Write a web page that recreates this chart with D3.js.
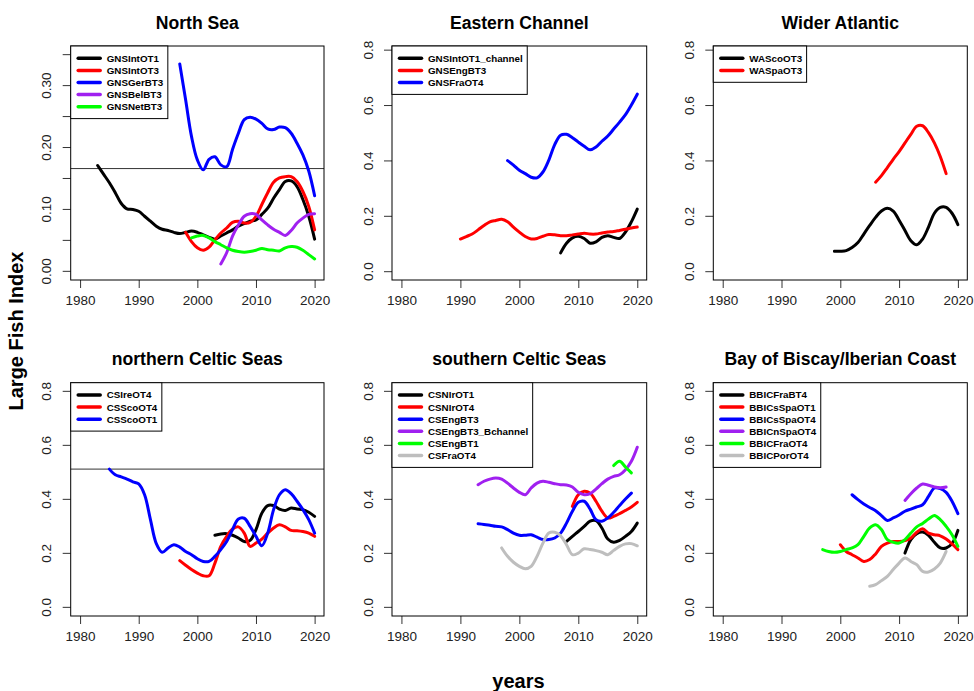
<!DOCTYPE html>
<html>
<head>
<meta charset="utf-8">
<script src="https://cdn.jsdelivr.net/npm/d3@7"></script>
<style>
  body { margin: 0; background: #fff; }
  svg { display: block; font-family: "Liberation Sans", Arial, sans-serif; }
</style>
</head>
<body>
<div id="chart"></div>
<script>
// tick labels
const xTicks = [1980, 1990, 2000, 2010, 2020];
const ticksNorthSea = [0, 0.05, 0.10, 0.15, 0.20, 0.25, 0.30, 0.35];
const labelsNorthSea = [0, 0.10, 0.20, 0.30];
const ticksOther = [0, 0.2, 0.4, 0.6, 0.8];

// North Sea
const gnsIntOT1 = [0.171, 0.157, 0.143, 0.127, 0.110, 0.101, 0.100, 0.097, 0.089, 0.081, 0.073, 0.068, 0.066, 0.063, 0.061, 0.063, 0.065, 0.063, 0.059, 0.055, 0.052, 0.057, 0.062, 0.067, 0.073, 0.077, 0.081, 0.083, 0.092, 0.102, 0.118, 0.132, 0.145, 0.146, 0.137, 0.116, 0.089, 0.052]; // from 1983
const gnsIntOT3 = [0.063, 0.048, 0.038, 0.034, 0.039, 0.051, 0.062, 0.070, 0.079, 0.081, 0.078, 0.079, 0.089, 0.108, 0.127, 0.144, 0.151, 0.153, 0.153, 0.145, 0.129, 0.105, 0.067]; // from 1998
const gnsGerBT3 = [0.335, 0.277, 0.218, 0.180, 0.164, 0.181, 0.185, 0.172, 0.169, 0.197, 0.223, 0.245, 0.249, 0.246, 0.239, 0.230, 0.229, 0.233, 0.232, 0.223, 0.207, 0.188, 0.162, 0.122]; // from 1997
const gnsBelBT3 = [0.012, 0.030, 0.057, 0.075, 0.089, 0.093, 0.092, 0.083, 0.075, 0.068, 0.063, 0.058, 0.066, 0.078, 0.086, 0.092, 0.093]; // from 2004
const gnsNetBT3 = [0.054, 0.057, 0.058, 0.054, 0.048, 0.043, 0.038, 0.034, 0.032, 0.031, 0.032, 0.034, 0.037, 0.035, 0.034, 0.033, 0.038, 0.040, 0.039, 0.034, 0.027, 0.020]; // from 1999

// Eastern Channel
const gnsIntOT1Channel = [0.068, 0.103, 0.122, 0.128, 0.120, 0.103, 0.108, 0.124, 0.130, 0.124, 0.120, 0.143, 0.180, 0.226]; // from 2007
const gnsEngBT3 = [0.118, 0.127, 0.136, 0.151, 0.167, 0.180, 0.185, 0.189, 0.180, 0.161, 0.143, 0.127, 0.118, 0.120, 0.128, 0.134, 0.133, 0.130, 0.130, 0.133, 0.136, 0.139, 0.136, 0.136, 0.140, 0.143, 0.145, 0.149, 0.153, 0.158, 0.161]; // from 1990
const gnsFraOT4 = [0.401, 0.385, 0.366, 0.354, 0.341, 0.339, 0.360, 0.403, 0.459, 0.493, 0.496, 0.484, 0.468, 0.453, 0.440, 0.450, 0.471, 0.490, 0.515, 0.540, 0.567, 0.602, 0.641]; // from 1998

// Wider Atlantic
const waScoOT3 = [0.074, 0.074, 0.076, 0.087, 0.105, 0.136, 0.167, 0.196, 0.219, 0.229, 0.219, 0.186, 0.149, 0.112, 0.097, 0.118, 0.161, 0.211, 0.232, 0.232, 0.211, 0.170]; // from 1999
const waSpaOT3 = [0.323, 0.347, 0.376, 0.406, 0.434, 0.465, 0.496, 0.525, 0.527, 0.502, 0.465, 0.416, 0.354]; // from 2006

// northern Celtic Seas
const csIreOT4 = [0.267, 0.272, 0.273, 0.267, 0.257, 0.244, 0.248, 0.288, 0.349, 0.377, 0.377, 0.364, 0.359, 0.368, 0.364, 0.362, 0.352, 0.337]; // from 2003
const csScoOT4 = [0.173, 0.156, 0.140, 0.127, 0.117, 0.117, 0.164, 0.226, 0.263, 0.290, 0.298, 0.275, 0.226, 0.238, 0.253, 0.275, 0.294, 0.306, 0.298, 0.285, 0.284, 0.281, 0.275, 0.263]; // from 1997
const csScoOT1 = [0.512, 0.491, 0.483, 0.475, 0.465, 0.457, 0.417, 0.325, 0.236, 0.204, 0.220, 0.232, 0.223, 0.207, 0.195, 0.180, 0.170, 0.170, 0.189, 0.214, 0.244, 0.288, 0.327, 0.330, 0.300, 0.263, 0.228, 0.275, 0.362, 0.417, 0.436, 0.421, 0.393, 0.362, 0.325, 0.275]; // from 1985

// southern Celtic Seas
const csNIrOT1 = [0.244, 0.263, 0.281, 0.300, 0.319, 0.321, 0.294, 0.253, 0.241, 0.248, 0.263, 0.281, 0.312]; // from 2008
const csNIrOT4 = [0.374, 0.417, 0.430, 0.423, 0.393, 0.356, 0.331, 0.337, 0.347, 0.359, 0.372, 0.389]; // from 2009
const csEngBT3 = [0.310, 0.307, 0.304, 0.300, 0.298, 0.288, 0.275, 0.267, 0.267, 0.269, 0.260, 0.251, 0.251, 0.257, 0.275, 0.312, 0.356, 0.389, 0.393, 0.364, 0.325, 0.319, 0.331, 0.352, 0.377, 0.401, 0.423]; // from 1993
const csEngBT3Bchannel = [0.454, 0.467, 0.475, 0.479, 0.475, 0.460, 0.442, 0.426, 0.417, 0.442, 0.460, 0.467, 0.463, 0.458, 0.454, 0.453, 0.446, 0.426, 0.417, 0.421, 0.438, 0.458, 0.475, 0.485, 0.491, 0.510, 0.541, 0.593]; // from 1993
const csEngBT1 = [0.525, 0.541, 0.520, 0.498]; // from 2016
const csFraOT4 = [0.220, 0.189, 0.167, 0.152, 0.143, 0.152, 0.189, 0.238, 0.275, 0.278, 0.265, 0.232, 0.195, 0.201, 0.217, 0.214, 0.210, 0.204, 0.195, 0.211, 0.226, 0.235, 0.236, 0.228]; // from 1997

// Bay of Biscay / Iberian Coast
const bbicFraBT4 = [0.201, 0.251, 0.273, 0.279, 0.267, 0.241, 0.220, 0.220, 0.236, 0.285]; // from 2011
const bbicsSpaOT1 = [0.232, 0.207, 0.195, 0.183, 0.170, 0.177, 0.198, 0.226, 0.238, 0.244, 0.244, 0.247, 0.257, 0.278, 0.291, 0.275, 0.269, 0.265, 0.253, 0.235, 0.214]; // from 2000
const bbicsSpaOT4 = [0.417, 0.399, 0.383, 0.370, 0.358, 0.340, 0.322, 0.331, 0.342, 0.356, 0.364, 0.372, 0.380, 0.411, 0.442, 0.440, 0.426, 0.393, 0.347]; // from 2002
const bbicnSpaOT4 = [0.396, 0.421, 0.442, 0.457, 0.452, 0.446, 0.443, 0.446]; // from 2011
const bbicFraOT4 = [0.214, 0.207, 0.204, 0.207, 0.214, 0.220, 0.232, 0.263, 0.294, 0.306, 0.288, 0.251, 0.241, 0.238, 0.251, 0.275, 0.298, 0.311, 0.327, 0.340, 0.325, 0.300, 0.269, 0.226]; // from 1997
const bbicPorOT4 = [0.078, 0.084, 0.099, 0.115, 0.140, 0.164, 0.183, 0.170, 0.158, 0.133, 0.131, 0.142, 0.164, 0.207]; // from 2005

const panels = [
  { title: 'North Sea', col: 0, row: 0, ydom: [-0.014, 0.364], ticks: ticksNorthSea, labels: labelsNorthSea, fmt: '.2f', ref: 0.166,
    series: [
      { name: 'GNSIntOT1', color: 'black', start: 1983, values: gnsIntOT1 },
      { name: 'GNSIntOT3', color: '#ff0000', start: 1998, values: gnsIntOT3 },
      { name: 'GNSGerBT3', color: '#0000ff', start: 1997, values: gnsGerBT3 },
      { name: 'GNSBelBT3', color: '#a020f0', start: 2004, values: gnsBelBT3 },
      { name: 'GNSNetBT3', color: '#00ff00', start: 1999, values: gnsNetBT3 }
    ] },
  { title: 'Eastern Channel', col: 1, row: 0, ydom: [-0.030, 0.815], ticks: ticksOther, labels: ticksOther, fmt: '.1f',
    series: [
      { name: 'GNSIntOT1_channel', color: 'black', start: 2007, values: gnsIntOT1Channel },
      { name: 'GNSEngBT3', color: '#ff0000', start: 1990, values: gnsEngBT3 },
      { name: 'GNSFraOT4', color: '#0000ff', start: 1998, values: gnsFraOT4 }
    ] },
  { title: 'Wider Atlantic', col: 2, row: 0, ydom: [-0.030, 0.815], ticks: ticksOther, labels: ticksOther, fmt: '.1f',
    series: [
      { name: 'WAScoOT3', color: 'black', start: 1999, values: waScoOT3 },
      { name: 'WASpaOT3', color: '#ff0000', start: 2006, values: waSpaOT3 }
    ] },
  { title: 'northern Celtic Seas', col: 0, row: 1, ydom: [-0.032, 0.832], ticks: ticksOther, labels: ticksOther, fmt: '.1f', ref: 0.512,
    series: [
      { name: 'CSIreOT4', color: 'black', start: 2003, values: csIreOT4 },
      { name: 'CSScoOT4', color: '#ff0000', start: 1997, values: csScoOT4 },
      { name: 'CSScoOT1', color: '#0000ff', start: 1985, values: csScoOT1 }
    ] },
  { title: 'southern Celtic Seas', col: 1, row: 1, ydom: [-0.032, 0.832], ticks: ticksOther, labels: ticksOther, fmt: '.1f',
    series: [
      { name: 'CSNIrOT1', color: 'black', start: 2008, values: csNIrOT1 },
      { name: 'CSNIrOT4', color: '#ff0000', start: 2009, values: csNIrOT4 },
      { name: 'CSEngBT3', color: '#0000ff', start: 1993, values: csEngBT3 },
      { name: 'CSEngBT3_Bchannel', color: '#a020f0', start: 1993, values: csEngBT3Bchannel },
      { name: 'CSEngBT1', color: '#00ff00', start: 2016, values: csEngBT1 },
      { name: 'CSFraOT4', color: '#bebebe', start: 1997, values: csFraOT4 }
    ] },
  { title: 'Bay of Biscay/Iberian Coast', col: 2, row: 1, ydom: [-0.032, 0.832], ticks: ticksOther, labels: ticksOther, fmt: '.1f',
    series: [
      { name: 'BBICFraBT4', color: 'black', start: 2011, values: bbicFraBT4 },
      { name: 'BBICsSpaOT1', color: '#ff0000', start: 2000, values: bbicsSpaOT1 },
      { name: 'BBICsSpaOT4', color: '#0000ff', start: 2002, values: bbicsSpaOT4 },
      { name: 'BBICnSpaOT4', color: '#a020f0', start: 2011, values: bbicnSpaOT4 },
      { name: 'BBICFraOT4', color: '#00ff00', start: 1997, values: bbicFraOT4 },
      { name: 'BBICPorOT4', color: '#bebebe', start: 2005, values: bbicPorOT4 }
    ] }
];

const width = 974, height = 691;
const cols = [[70.7, 324], [392, 646.7], [713.3, 967.3]];
const rows = [[46, 280], [382.7, 616]];

const svg = d3.select('#chart').append('svg')
  .attr('width', width)
  .attr('height', height)
  .attr('viewBox', `0 0 ${width} ${height}`)
  .style('background-color', '#ffffff');

panels.forEach(p => {
  const [l, r] = cols[p.col];
  const [t, b] = rows[p.row];
  const x = d3.scaleLinear().domain([1978.4, 2021.6]).range([l, r]);
  const y = d3.scaleLinear().domain(p.ydom).range([b, t]);
  const g = svg.append('g');

  // x axis ticks + labels (R style, below box)
  g.append('g')
    .attr('transform', `translate(0, ${b})`)
    .call(d3.axisBottom(x).tickValues(xTicks).tickFormat(d3.format('d')).tickSize(8).tickPadding(7))
    .call(a => a.select('.domain').remove())
    .call(a => a.selectAll('line').attr('stroke', '#333'))
    .call(a => a.selectAll('text').attr('fill', '#222').style('font-size', '13.5px').attr('font-family', null));

  // y axis ticks
  g.append('g')
    .selectAll('line')
    .data(p.ticks)
    .join('line')
    .attr('x1', l)
    .attr('x2', l - 8)
    .attr('y1', d => y(d))
    .attr('y2', d => y(d))
    .attr('stroke', '#333');

  g.append('g')
    .selectAll('text')
    .data(p.labels)
    .join('text')
    .attr('transform', d => `translate(${l - 19.5}, ${y(d)}) rotate(-90)`)
    .attr('text-anchor', 'middle')
    .attr('fill', '#222')
    .style('font-size', '13.5px')
    .text(d => d3.format(p.fmt)(d));

  // title
  g.append('text')
    .attr('x', (l + r) / 2)
    .attr('y', p.row === 0 ? 28.5 : 365)
    .attr('text-anchor', 'middle')
    .style('font-size', '17.6px')
    .style('font-weight', 700)
    .text(p.title);

  // reference line
  if (p.ref !== undefined) {
    g.append('line')
      .attr('x1', l).attr('x2', r)
      .attr('y1', y(p.ref)).attr('y2', y(p.ref))
      .attr('stroke', '#333')
      .attr('stroke-width', 1);
  }

  // series
  const line = d3.line()
    .x(d => x(d.year))
    .y(d => y(d.value))
    .curve(d3.curveCatmullRom.alpha(0.5));

  p.series.forEach(s => {
    const pts = s.values.map((v, i) => ({ year: s.start + i, value: v }));
    g.append('path')
      .datum(pts)
      .attr('fill', 'none')
      .attr('stroke', s.color)
      .attr('stroke-width', 3)
      .attr('stroke-linecap', 'round')
      .attr('stroke-linejoin', 'round')
      .attr('d', line);
  });

  // box
  g.append('rect')
    .attr('x', l).attr('y', t)
    .attr('width', r - l).attr('height', b - t)
    .attr('fill', 'none')
    .attr('stroke', 'black')
    .attr('stroke-width', 1);

  // legend
  const lg = g.append('g');
  const box = lg.append('rect')
    .attr('x', l).attr('y', t)
    .attr('fill', 'white')
    .attr('stroke', 'black')
    .attr('stroke-width', 1);
  let maxLen = 0;
  p.series.forEach((s, i) => {
    const cy = t + 12.3 + i * 12.1;
    lg.append('line')
      .attr('x1', l + 7.5).attr('x2', l + 29.5)
      .attr('y1', cy).attr('y2', cy)
      .attr('stroke', s.color)
      .attr('stroke-width', 3.5)
      .attr('stroke-linecap', 'round');
    const txt = lg.append('text')
      .attr('x', l + 36)
      .attr('y', cy)
      .attr('dy', '0.35em')
      .style('font-size', '9.8px')
      .style('font-weight', 700)
      .text(s.name);
    maxLen = Math.max(maxLen, txt.node().getComputedTextLength());
  });
  box.attr('width', 36 + maxLen + 4.5)
    .attr('height', (p.series.length + 1) * 12.1);
});

// shared axis labels
svg.append('text')
  .attr('transform', 'translate(23, 331) rotate(-90)')
  .attr('text-anchor', 'middle')
  .style('font-size', '20px')
  .style('font-weight', 700)
  .text('Large Fish Index');

svg.append('text')
  .attr('x', 518.5)
  .attr('y', 688)
  .attr('text-anchor', 'middle')
  .style('font-size', '20px')
  .style('font-weight', 700)
  .text('years');
</script>
</body>
</html>
